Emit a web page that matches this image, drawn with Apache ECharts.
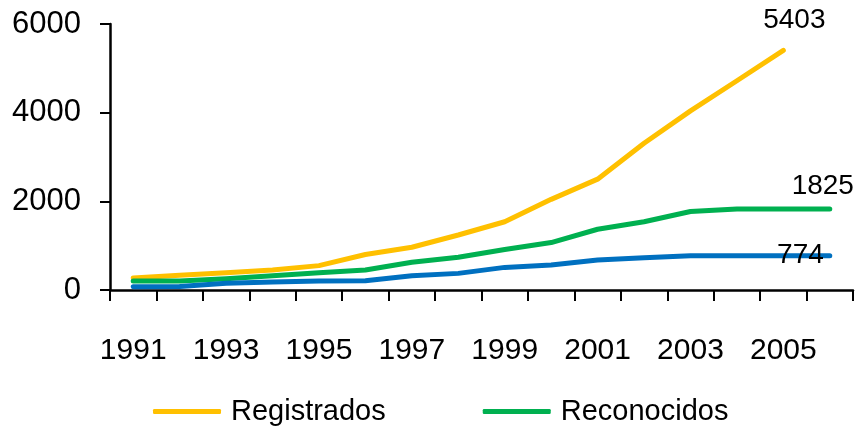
<!DOCTYPE html>
<html>
<head>
<meta charset="utf-8">
<script src="https://cdn.jsdelivr.net/npm/echarts@6/dist/echarts.min.js"></script>
<style>
  html, body { margin: 0; padding: 0; background: #fff; }
  #chart { width: 858px; height: 431px; }
</style>
</head>
<body>
<div id="chart"></div>
<script>
// Years on the category axis
const years = ['1991','1992','1993','1994','1995','1996','1997','1998',
               '1999','2000','2001','2002','2003','2004','2005','2006'];

// Annual totals per series
const registrados = [270, 330, 390, 450, 550, 800, 965, 1240, 1540, 2045, 2500, 3310, 4040, 4720, 5403];
const reconocidos = [205, 205, 255, 320, 390, 450, 625, 740, 915, 1070, 1370, 1540, 1770, 1825, 1825, 1825];
const otros       = [75, 80, 150, 180, 205, 210, 320, 375, 510, 565, 675, 730, 774, 774, 774, 774];

// Value axis ticks
const yTicks = [0, 2000, 4000, 6000];

const FONT = '"Liberation Sans", Arial, sans-serif';

// Show the value only at the last point of a series
function lastLabel(arr) {
  return function (p) { return p.dataIndex === arr.length - 1 ? String(p.value) : ''; };
}

function lineSeries(name, data, color, label) {
  return {
    name: name,
    type: 'line',
    data: data,
    color: color,
    symbol: 'circle',
    symbolSize: 0,
    showSymbol: true,
    lineStyle: { width: 5, color: color, cap: 'round', join: 'round' },
    label: Object.assign({
      show: true,
      formatter: lastLabel(data),
      color: '#000',
      fontFamily: FONT,
      fontSize: 28
    }, label),
    emphasis: { disabled: true },
    animation: false
  };
}

const chart = echarts.init(document.getElementById('chart'), null, { renderer: 'canvas' });
chart.setOption({
  backgroundColor: '#fff',
  animation: false,
  grid: { left: 110, right: 5, top: 24, bottom: 141, containLabel: false },
  legend: {
    data: ['Registrados', 'Reconocidos'],
    left: 153,
    top: 397,
    padding: 0,
    itemGap: 97,
    itemWidth: 68,
    itemHeight: 5,
    icon: 'roundRect',
    textStyle: { color: '#000', fontFamily: FONT, fontSize: 29, padding: [0, 0, 0, 5] }
  },
  xAxis: {
    type: 'category',
    data: years,
    boundaryGap: true,
    axisLine: { lineStyle: { color: '#000', width: 2.5 } },
    axisTick: { show: true, interval: 0, length: 11, lineStyle: { color: '#000', width: 2 } },
    axisLabel: { interval: 1, margin: 46, color: '#000', fontFamily: FONT, fontSize: 30 }
  },
  yAxis: {
    type: 'value',
    min: yTicks[0],
    max: yTicks[yTicks.length - 1],
    interval: yTicks[1] - yTicks[0],
    splitLine: { show: false },
    axisLine: { show: true, lineStyle: { color: '#000', width: 2.5 } },
    axisTick: { show: true, length: 10, lineStyle: { color: '#000', width: 2 } },
    axisLabel: {
      margin: 29, color: '#000', fontFamily: FONT, fontSize: 31,
      formatter: function (v) { return String(v); }
    }
  },
  series: [
    lineSeries('Registrados', registrados, '#FFC000', { position: 'top', offset: [11, -11] }),
    lineSeries('Reconocidos', reconocidos, '#00B050', { position: 'top', offset: [-7, -4] }),
    lineSeries('Otros', otros, '#0070C0', { position: 'left', distance: 6 })
  ]
});
</script>
</body>
</html>
